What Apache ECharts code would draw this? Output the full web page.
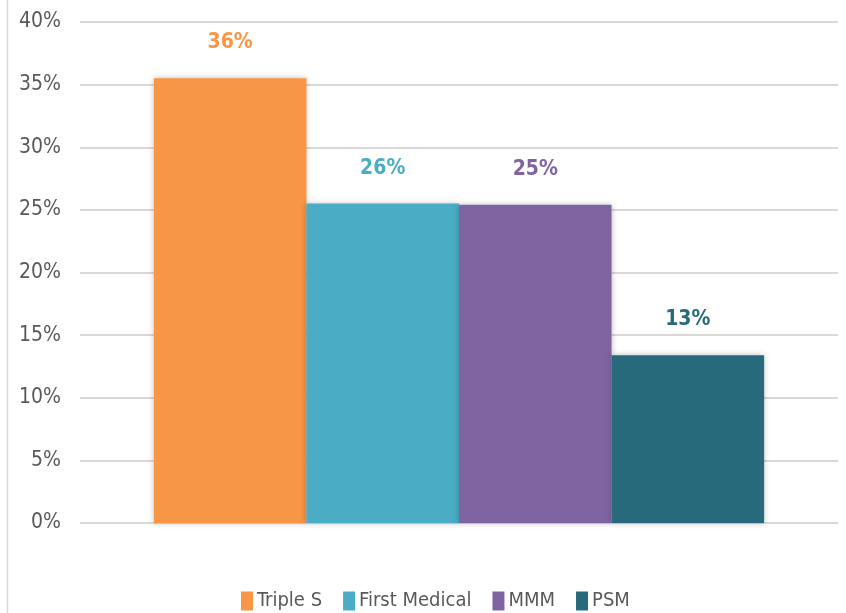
<!DOCTYPE html>
<html>
<head>
<meta charset="utf-8">
<script src="https://cdn.jsdelivr.net/npm/echarts@6/dist/echarts.min.js"></script>
<style>
    html, body { margin: 0; padding: 0; background: #fff; }
    #chart { width: 846px; height: 613px; }
</style>
</head>
<body>
<div id="chart"></div>
<script>
// plan names and their share (bar heights)
const plans = ["Triple S", "First Medical", "MMM", "PSM"];
const shares = [35.5, 25.5, 25.4, 13.4];
const colors = ["#F79646", "#4BACC6", "#8064A2", "#276A7C"];
const yTicks = [0, 5, 10, 15, 20, 25, 30, 35, 40];

const font = "'DejaVu Sans Condensed', 'Liberation Sans', sans-serif";

let myChart = echarts.init(document.getElementById("chart"));

const opts = {
    animation: false,
    textStyle: { fontFamily: font },
    grid: {
        left: 80,
        right: 8,
        top: 22,
        bottom: 90,
    },
    legend: {
        data: plans,
        bottom: -3,
        left: 236,
        itemWidth: 12,
        itemHeight: 19,
        itemGap: 21,
        icon: "rect",
        textStyle: {
            fontFamily: font,
            fontSize: 20,
            color: "#595959",
            padding: [2, 0, 0, -1],
        },
    },
    xAxis: {
        type: "category",
        data: [""],
        axisLine: { show: false },
        axisTick: { show: false },
        axisLabel: { show: false },
    },
    yAxis: {
        type: "value",
        min: yTicks[0],
        max: yTicks[yTicks.length - 1],
        interval: 5,
        axisLine: { show: false },
        axisTick: { show: false },
        axisLabel: {
            formatter: "{value}%",
            fontFamily: font,
            fontSize: 21,
            color: "#595959",
            margin: 19,
        },
        splitLine: {
            lineStyle: { color: "#d9d9d9", width: 2 },
        },
    },
    series: plans.map((name, i) => ({
        name: name,
        type: "bar",
        data: [shares[i]],
        barGap: "0%",
        barCategoryGap: "19.5%",
        itemStyle: {
            color: colors[i],
            shadowBlur: 6,
            shadowColor: "rgba(0, 0, 0, 0.25)",
        },
        label: {
            show: true,
            position: "top",
            distance: 25,
            formatter: (p) => Math.round(p.value) + "%",
            fontFamily: font,
            fontWeight: "bold",
            fontSize: 21,
            color: colors[i],
        },
    })),
    graphic: [
        {
            type: "line",
            shape: { x1: 7.5, y1: 0, x2: 7.5, y2: 613 },
            style: { stroke: "#d9d9d9", lineWidth: 1.5 },
        },
    ],
};

myChart.setOption(opts);
</script>
</body>
</html>
